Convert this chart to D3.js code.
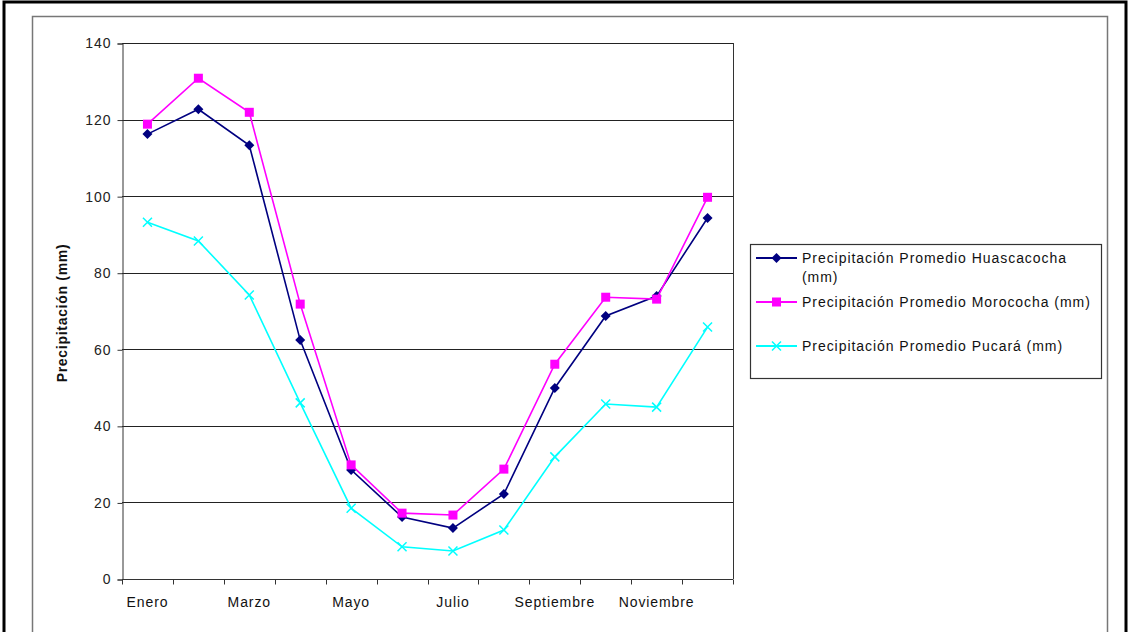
<!DOCTYPE html>
<html>
<head>
<meta charset="utf-8">
<script src="https://cdn.jsdelivr.net/npm/d3@7"></script>
<style>
  body { margin: 0; background: #fff; }
  svg { display: block; }
</style>
</head>
<body>
<div class="chart"></div>
<script>
var months = ["Enero","Febrero","Marzo","Abril","Mayo","Junio","Julio","Agosto","Septiembre","Octubre","Noviembre","Diciembre"]
var shownMonths = ["Enero","Marzo","Mayo","Julio","Septiembre","Noviembre"]
var huascacocha = [116.2,122.7,113.3,62.4,28.5,16.2,13.3,22.2,49.9,68.7,73.9,94.3]
var morococha = [118.8,130.8,121.9,71.8,29.8,17.2,16.7,28.7,56.1,73.6,73.1,99.7]
var pucara = [93.2,88.3,74.2,46.0,18.5,8.4,7.3,12.8,31.9,45.7,44.9,65.8]
var yTicks = [0,20,40,60,80,100,120,140]

var series = [
  {name: "Precipitación Promedio Huascacocha (mm)", lines: ["Precipitación Promedio Huascacocha", "(mm)"], values: huascacocha, color: "#000080", marker: "diamond"},
  {name: "Precipitación Promedio Morococha (mm)", lines: ["Precipitación Promedio Morococha (mm)"], values: morococha, color: "#ff00ff", marker: "square"},
  {name: "Precipitación Promedio Pucará (mm)", lines: ["Precipitación Promedio Pucará (mm)"], values: pucara, color: "#00ffff", marker: "cross"}
]

var svg = d3.select(".chart")
    .append("svg")
    .attr("width", 1130)
    .attr("height", 632)
    .style("font-family", "'Liberation Sans', Arial, sans-serif")

// outer frames
svg.append("rect")
    .attr("x", 4).attr("y", 2).attr("width", 1122).attr("height", 640)
    .attr("fill", "none").attr("stroke", "#000").attr("stroke-width", 3)
svg.append("rect")
    .attr("x", 32.5).attr("y", 16.5).attr("width", 1075).attr("height", 630)
    .attr("fill", "none").attr("stroke", "#777").attr("stroke-width", 1.5)

var x = d3.scaleBand().domain(months).range([122, 733])
var y = d3.scaleLinear().domain([0, 140]).range([579, 43])

// gridlines
svg.append("g")
    .selectAll("line")
    .data(yTicks.filter(d => d > 0))
    .join("line")
    .attr("x1", 122).attr("x2", 733)
    .attr("y1", d => Math.round(y(d)) + 0.5).attr("y2", d => Math.round(y(d)) + 0.5)
    .attr("stroke", "#222").attr("stroke-width", 1)

// right border of plot area
svg.append("line")
    .attr("x1", 733.5).attr("x2", 733.5).attr("y1", y(140)).attr("y2", y(0))
    .attr("stroke", "#333")

// y axis
var yAxis = svg.append("g")
    .attr("transform", "translate(122.5,0.5)")
    .call(d3.axisLeft(y).tickValues(yTicks).tickSize(5).tickPadding(6).tickFormat(d3.format("d")))
yAxis.select(".domain").attr("stroke", "#333")
yAxis.selectAll(".tick line").attr("stroke", "#333")
yAxis.selectAll("text").style("font-size", "14px").style("letter-spacing", "1px").attr("fill", "#222")

// x axis: ticks on band edges
var xg = svg.append("g").attr("transform", "translate(0," + (Math.round(y(0)) + 0.5) + ")")
xg.append("line").attr("x1", 122).attr("x2", 733).attr("stroke", "#333")
xg.selectAll(".edge")
    .data(months.concat(["end"]))
    .join("line")
    .attr("class", "edge")
    .attr("x1", (d, i) => Math.round(122 + i * x.bandwidth()) + 0.5)
    .attr("x2", (d, i) => Math.round(122 + i * x.bandwidth()) + 0.5)
    .attr("y1", 0).attr("y2", 5)
    .attr("stroke", "#333")
xg.selectAll(".lbl")
    .data(shownMonths)
    .join("text")
    .attr("class", "lbl")
    .attr("x", d => x(d) + x.bandwidth() / 2)
    .attr("y", 27)
    .attr("text-anchor", "middle")
    .style("font-size", "14px")
    .style("letter-spacing", "0.9px")
    .attr("fill", "#111")
    .text(d => d)

// y title
svg.append("text")
    .attr("transform", "translate(67,313) rotate(-90)")
    .attr("text-anchor", "middle")
    .style("font-size", "14px")
    .style("letter-spacing", "0.7px")
    .style("font-weight", "bold")
    .attr("fill", "#111")
    .text("Precipitación (mm)")

function drawMarker(g, type, color) {
  if (type == "diamond") {
    g.append("path").attr("d", "M0,-5L5,0L0,5L-5,0Z").attr("fill", color)
  } else if (type == "square") {
    g.append("rect").attr("x", -4.5).attr("y", -4.5).attr("width", 9).attr("height", 9).attr("fill", color)
  } else {
    g.append("path").attr("d", "M-4.5,-4.5L4.5,4.5M-4.5,4.5L4.5,-4.5").attr("stroke", color).attr("stroke-width", 1.5)
  }
}

var line = d3.line()
    .x((d, i) => x(months[i]) + x.bandwidth() / 2)
    .y(d => y(d))

series.forEach(s => {
  svg.append("path")
      .datum(s.values)
      .attr("d", line)
      .attr("fill", "none")
      .attr("stroke", s.color)
      .attr("stroke-width", 1.6)
  s.values.forEach((v, i) => {
    var g = svg.append("g").attr("transform", "translate(" + (x(months[i]) + x.bandwidth() / 2) + "," + y(v) + ")")
    drawMarker(g, s.marker, s.color)
  })
})

// legend
svg.append("rect")
    .attr("x", 750.5).attr("y", 244.5).attr("width", 351).attr("height", 134)
    .attr("fill", "#fff").attr("stroke", "#333").attr("stroke-width", 1.2)

var legendY = [258, 302, 346]
series.forEach((s, i) => {
  var ly = legendY[i]
  svg.append("line")
      .attr("x1", 756).attr("x2", 797).attr("y1", ly).attr("y2", ly)
      .attr("stroke", s.color).attr("stroke-width", 2)
  var g = svg.append("g").attr("transform", "translate(776.5," + ly + ")")
  drawMarker(g, s.marker, s.color)
  s.lines.forEach((t, j) => {
    svg.append("text")
        .attr("x", 802)
        .attr("y", ly + 5 + j * 19)
        .style("font-size", "14px")
        .style("letter-spacing", "0.95px")
        .attr("fill", "#111")
        .text(t)
  })
})
</script>
</body>
</html>
